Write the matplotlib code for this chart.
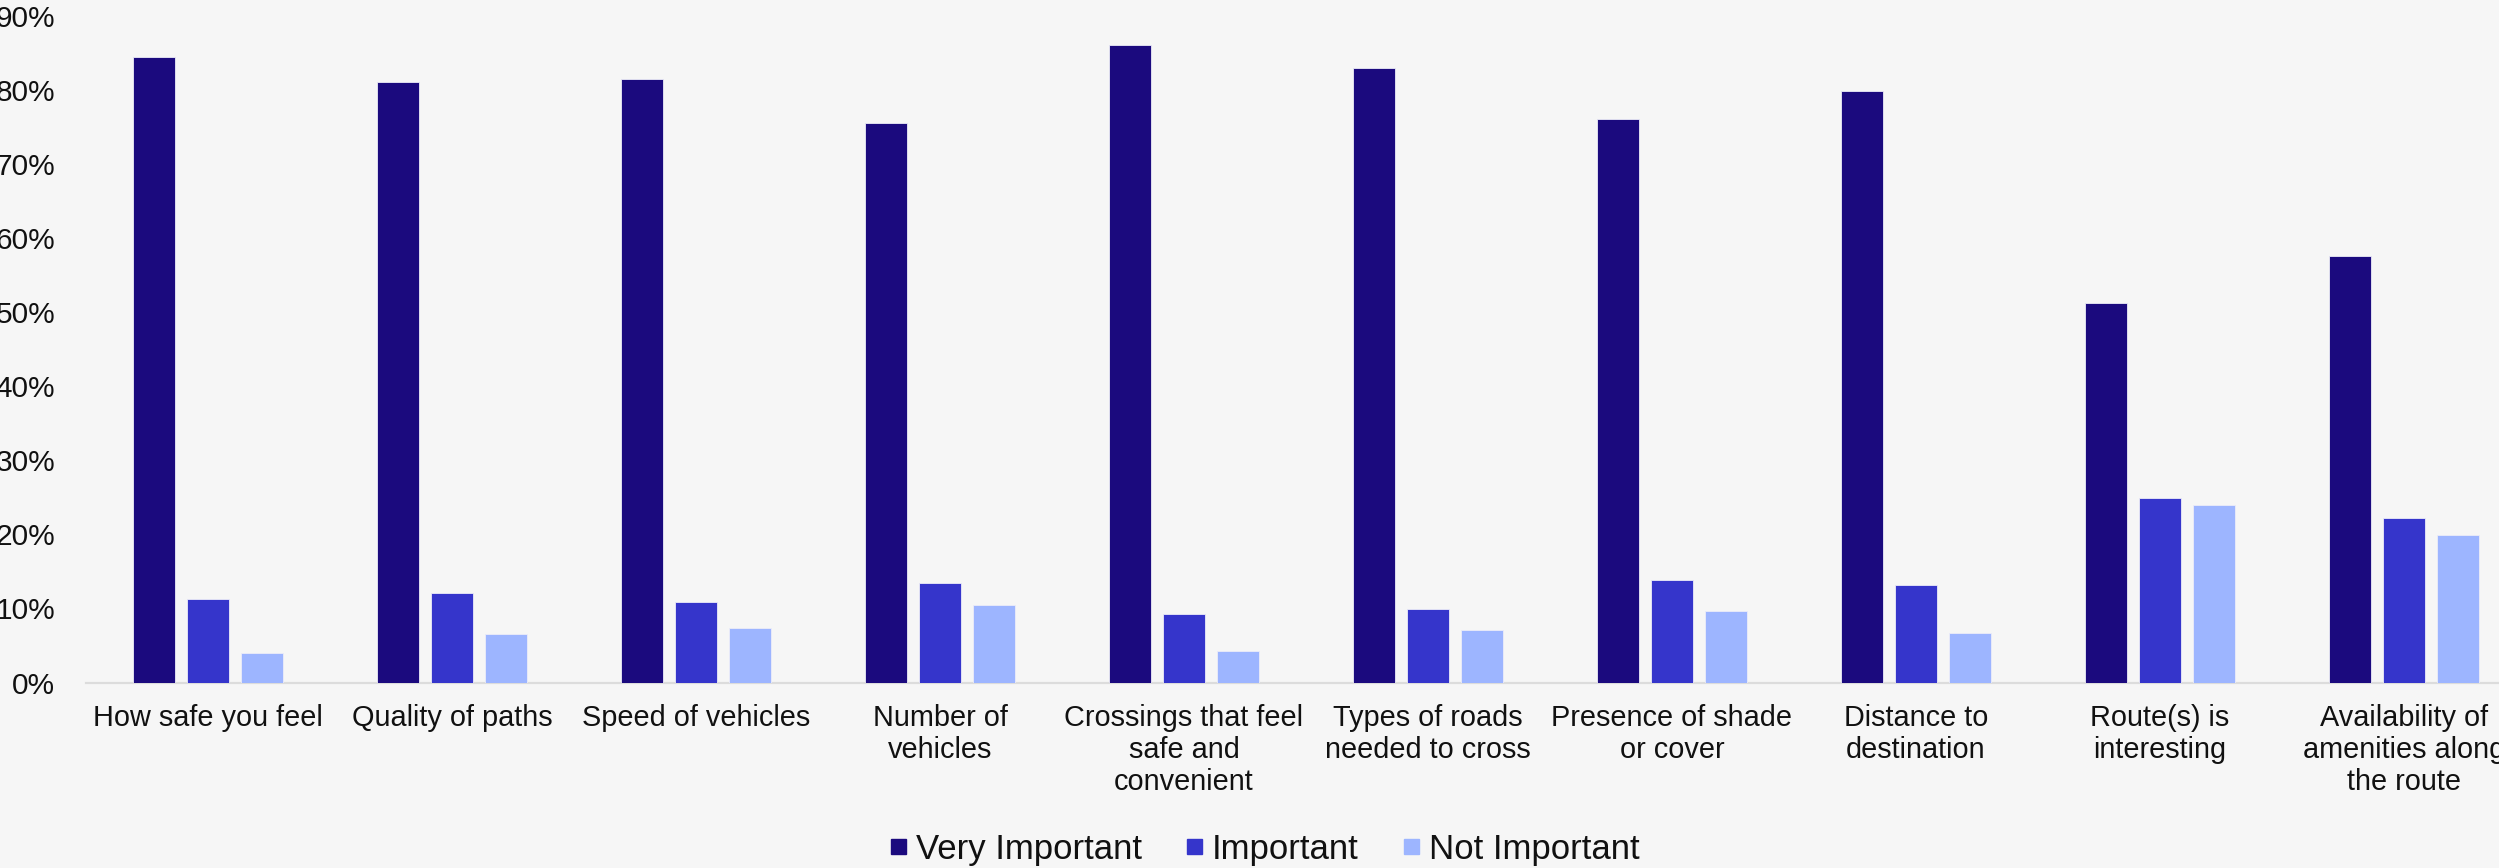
import numpy as np
import matplotlib
matplotlib.use("Agg")
import matplotlib.pyplot as plt
from matplotlib.lines import Line2D
from matplotlib.ticker import PercentFormatter

plt.rcParams['font.family'] = ['Liberation Sans', 'DejaVu Sans']

# Survey: importance of route factors when walking
categories = [
    "How safe you feel",
    "Quality of paths",
    "Speed of vehicles",
    "Number of\nvehicles",
    "Crossings that feel\nsafe and\nconvenient",
    "Types of roads\nneeded to cross",
    "Presence of shade\nor cover",
    "Distance to\ndestination",
    "Route(s) is\ninteresting",
    "Availability of\namenities along\nthe route",
]
very_important = [84.4, 81.1, 81.5, 75.5, 86.1, 82.9, 76.1, 79.8, 51.2, 57.6]
important = [11.3, 12.1, 10.9, 13.5, 9.2, 9.9, 13.8, 13.1, 24.9, 22.2]
not_important = [4.0, 6.6, 7.3, 10.5, 4.3, 7.1, 9.7, 6.7, 23.9, 19.9]
series_names = ["Very Important", "Important", "Not Important"]
series_colors = ["#1b0a7e", "#3535cb", "#9db5ff"]

BG = "#f6f6f6"
TEXT = "#111111"

fig = plt.figure(figsize=(24.99, 8.68), dpi=100, facecolor=BG)
# axes run a bit past the right edge of the canvas on purpose
ax = fig.add_axes([0.0344, 0.2137, 0.9764, 0.768], facecolor=BG)

x = np.arange(len(categories))
width = 0.172
offset = 0.221
for i, (vals, color) in enumerate(zip([very_important, important, not_important], series_colors)):
    ax.bar(x + (i - 1) * offset, vals, width=width, color=color,
           edgecolor="#ececf8", linewidth=0.6, zorder=3)

ax.set_xlim(-0.5, len(categories) - 0.5)
ax.set_ylim(0, 90)
ax.set_yticks(np.arange(0, 91, 10))
ax.yaxis.set_major_formatter(PercentFormatter(decimals=0))
ax.set_xticks(x)
ax.set_xticklabels(categories, fontsize=20.8, color=TEXT, linespacing=1.17)
ax.tick_params(axis='x', length=0, pad=15.5)
ax.tick_params(axis='y', length=0, pad=22, labelsize=21.5, labelcolor=TEXT)

for side in ['top', 'right', 'left']:
    ax.spines[side].set_visible(False)
ax.spines['bottom'].set_color('#dcdcdc')
ax.spines['bottom'].set_linewidth(1.6)
ax.spines['bottom'].set_zorder(1)

handles = [Line2D([], [], marker='s', linestyle='none', markersize=10.8,
                  markerfacecolor=c, markeredgecolor=c) for c in series_colors]
fig.legend(handles, series_names, loc='center', ncol=3,
           bbox_to_anchor=(1265 / 2499, 1 - 849 / 868), frameon=False,
           fontsize=25, handlelength=0.43, handletextpad=0.3,
           columnspacing=1.3, borderpad=0, labelcolor=TEXT)

fig.savefig("out.png", dpi=100, facecolor=BG)
